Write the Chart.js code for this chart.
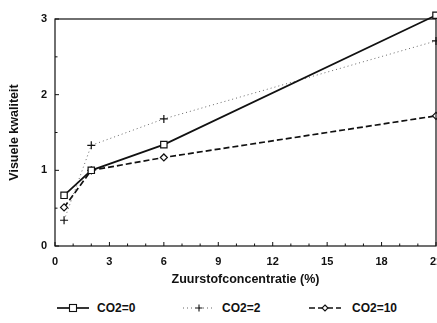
<!DOCTYPE html>
<html><head><meta charset="utf-8">
<script src="https://cdn.jsdelivr.net/npm/chart.js@4"></script>
<style>html,body{margin:0;padding:0;background:#fff;overflow:hidden;width:437px;height:323px}
#wrap{width:452px;height:294px;position:relative}
#legend{position:absolute;top:300px;left:0;width:437px;height:16px;font:bold 12px 'Liberation Sans',Arial,sans-serif;color:#111}
.icon{position:absolute;top:2px}
.txt{position:absolute;top:0;line-height:16px}</style>
</head><body><div id="wrap"><canvas id="c"></canvas></div><div id="legend"></div>
<script>
const xValues = [0.5, 2, 6, 21];
const co2_0 = [0.67, 1.0, 1.34, 3.05];
const co2_2 = [0.34, 1.33, 1.68, 2.71];
const co2_10 = [0.51, 1.0, 1.17, 1.72];
const seriesNames = ['CO2=0', 'CO2=2', 'CO2=10'];
const xTicks = [0, 3, 6, 9, 12, 15, 18, 21];
const yTicks = [0, 1, 2, 3];

const F = "'Liberation Sans', Arial, sans-serif";
const styles = [
  {dash: [], width: 1.7, color: '#111', point: 'rect', r: 4.5, iconLeft: 57, textLeft: 97},
  {dash: [1, 3], width: 1, color: '#666', point: 'cross', r: 4, iconLeft: 183, textLeft: 222},
  {dash: [6, 3], width: 1.7, color: '#111', point: 'rectRot', r: 3.5, iconLeft: 309, textLeft: 352}
];

function legendIcon(s) {
  const c = document.createElement('canvas');
  c.width = 32; c.height = 12;
  const g = c.getContext('2d');
  g.strokeStyle = s.color; g.lineWidth = s.width; g.setLineDash(s.dash);
  g.beginPath(); g.moveTo(0, 6); g.lineTo(32, 6); g.stroke();
  g.setLineDash([]); g.lineWidth = 1.1; g.strokeStyle = '#111';
  g.fillStyle = '#fff';
  if (s.point === 'rect') { g.fillRect(12.5, 2.5, 7, 7); g.strokeRect(12.5, 2.5, 7, 7); }
  else if (s.point === 'cross') { g.beginPath(); g.moveTo(16, 2.5); g.lineTo(16, 9.5); g.moveTo(12.5, 6); g.lineTo(19.5, 6); g.stroke(); }
  else { g.beginPath(); g.moveTo(16, 3); g.lineTo(19, 6); g.lineTo(16, 9); g.lineTo(13, 6); g.closePath(); g.fill(); g.stroke(); }
  return c;
}

const legendEl = document.getElementById('legend');
seriesNames.forEach((n, i) => {
  const ic = legendIcon(styles[i]);
  ic.className = 'icon';
  ic.style.left = styles[i].iconLeft + 'px';
  legendEl.appendChild(ic);
  const t = document.createElement('span');
  t.className = 'txt';
  t.style.left = styles[i].textLeft + 'px';
  t.textContent = n;
  legendEl.appendChild(t);
});

const allData = [co2_0, co2_2, co2_10];
const datasets = allData.map((arr, i) => ({
  label: seriesNames[i],
  data: arr.map((v, k) => ({x: xValues[k], y: v})),
  borderColor: styles[i].color,
  borderWidth: styles[i].width,
  borderDash: styles[i].dash,
  pointStyle: styles[i].point,
  pointRadius: styles[i].r,
  pointBorderColor: '#111',
  pointBorderWidth: 1.2,
  pointBackgroundColor: '#fff',
  fill: false,
  tension: 0,
  clip: false
}));

const ticksPlugin = {
  id: 'boxTicks',
  afterDraw(chart) {
    const {ctx, chartArea: a, scales: {x, y}} = chart;
    ctx.save();
    ctx.strokeStyle = '#111';
    ctx.lineWidth = 1.2;
    ctx.strokeRect(a.left, a.top, a.right - a.left, a.bottom - a.top);
    ctx.lineWidth = 1;
    ctx.beginPath();
    for (let v = 0; v <= 21; v += 1) {
      const px = x.getPixelForValue(v);
      const len = (v % 3 === 0) ? 4 : 2.5;
      ctx.moveTo(px, a.bottom); ctx.lineTo(px, a.bottom - len);
    }
    for (let v = 0; v <= 3; v += 0.5) {
      const py = y.getPixelForValue(v);
      const len = (v % 1 === 0) ? 4 : 2.5;
      ctx.moveTo(a.left, py); ctx.lineTo(a.left + len, py);
    }
    ctx.stroke();
    ctx.restore();
  }
};

new Chart(document.getElementById('c'), {
  type: 'line',
  data: {datasets},
  plugins: [ticksPlugin],
  options: {
    responsive: true,
    maintainAspectRatio: false,
    animation: false,
    layout: {padding: {left: 3, right: 16, top: 19, bottom: 2}},
    plugins: {legend: {display: false}, tooltip: {enabled: false}},
    scales: {
      x: {
        type: 'linear', min: 0, max: 21,
        afterBuildTicks: (s) => { s.ticks = xTicks.map(v => ({value: v})); },
        afterFit: (s) => { s.height = 46; },
        grid: {display: false, drawTicks: false},
        border: {display: false},
        ticks: {color: '#111', padding: 9, maxRotation: 0, font: {family: F, size: 11, weight: 'bold'}},
        title: {display: true, text: 'Zuurstofconcentratie (%)', color: '#111', padding: {top: 4, bottom: 5}, font: {family: F, size: 12.5, weight: 'bold'}}
      },
      y: {
        type: 'linear', min: 0, max: 3,
        afterBuildTicks: (s) => { s.ticks = yTicks.map(v => ({value: v})); },
        afterFit: (s) => { s.width = 52; },
        grid: {display: false, drawTicks: false},
        border: {display: false},
        ticks: {color: '#111', padding: 8, font: {family: F, size: 11, weight: 'bold'}},
        title: {display: true, text: 'Visuele kwaliteit', color: '#111', padding: {top: 4, bottom: 4}, font: {family: F, size: 12.5, weight: 'bold'}}
      }
    }
  }
});
</script></body></html>
